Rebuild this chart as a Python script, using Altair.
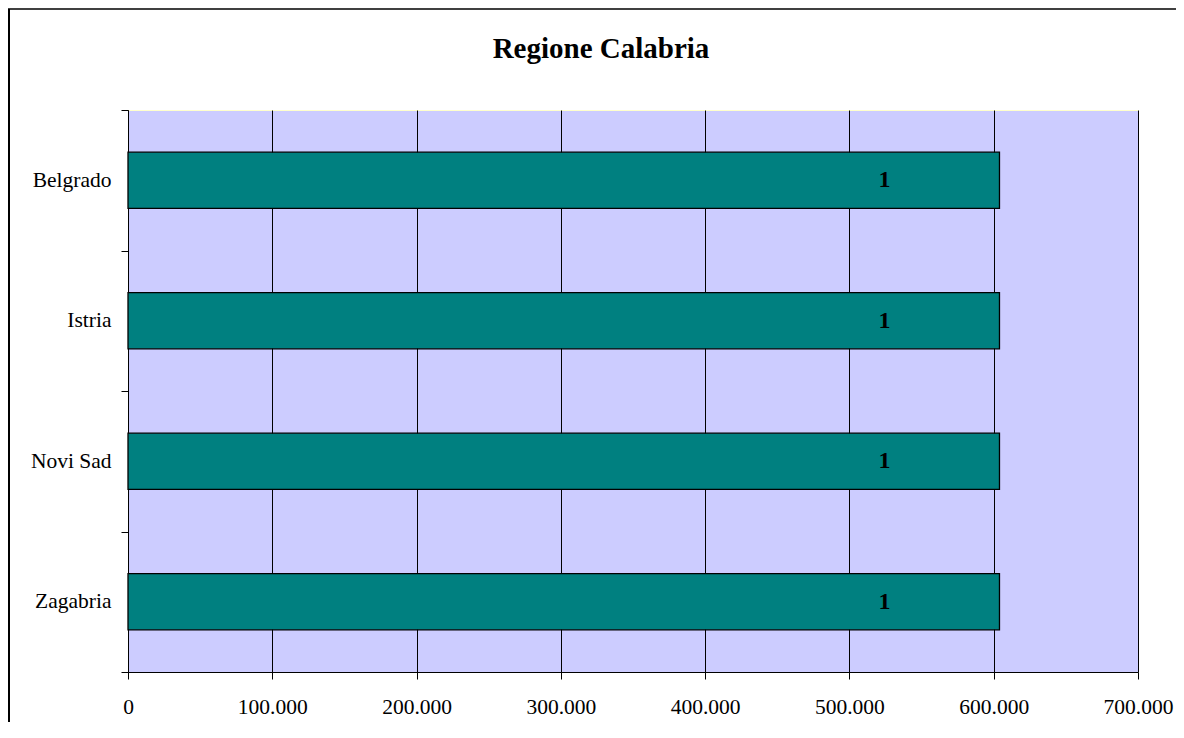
import altair as alt
import pandas as pd

categories = ["Belgrado", "Istria", "Novi Sad", "Zagabria"]
values = [604000, 604000, 604000, 604000]
labels = ["1", "1", "1", "1"]
x_ticks = [0, 100000, 200000, 300000, 400000, 500000, 600000, 700000]

df = pd.DataFrame({"cat": categories, "val": values, "lab": labels})

W, H = 1010, 562
FONT = "Liberation Serif"

base = alt.Chart(df)

bars = base.mark_bar(
    color="#008080", stroke="black", strokeWidth=1.3, height={"band": 0.4}
).encode(
    x=alt.X(
        "val:Q",
        scale=alt.Scale(domain=[0, 700000], nice=False),
        axis=alt.Axis(
            values=x_ticks, title=None, grid=True, gridColor="black", gridWidth=1,
            gridOpacity=1, domainColor="black", domainWidth=1, tickColor="black",
            tickSize=7, labelFontSize=21.5, labelColor="black", labelFont=FONT,
            labelPadding=17, labelFlush=False,
            labelExpr="replace(format(datum.value, ','), ',', '.')",
        ),
    ),
    y=alt.Y(
        "cat:N",
        sort=categories,
        scale=alt.Scale(paddingInner=0, paddingOuter=0),
        axis=alt.Axis(
            title=None, tickBand="extent", tickSize=7, tickColor="black",
            domainColor="black", labelFontSize=21.5, labelFont=FONT,
            labelColor="black", labelPadding=10, grid=False,
        ),
    ),
)

text = base.mark_text(
    font=FONT, fontSize=24, fontWeight="bold", color="black",
    dx=-115, align="center", baseline="middle",
).encode(
    x="val:Q",
    y=alt.Y("cat:N", sort=categories),
    text="lab:N",
)

frame_data = alt.Data(values=[{"k": 0}])
left_line = alt.Chart(frame_data).mark_rule(color="black", strokeWidth=2).encode(
    x=alt.value(-119), y=alt.value(-101), y2=alt.value(H + 80)
)
top_line = alt.Chart(frame_data).mark_rule(color="black", strokeWidth=1.5).encode(
    x=alt.value(-120), x2=alt.value(W + 70), y=alt.value(-101)
)

chart = (
    alt.layer(bars, text, left_line, top_line)
    .properties(
        width=W,
        height=H,
        padding={"left": 120, "top": 102, "right": 38, "bottom": 50},
        autosize=alt.AutoSizeParams(type="none"),
        background="white",
        title=alt.TitleParams(
            "Regione Calabria", font=FONT, fontSize=29, fontWeight="bold",
            color="black", anchor="middle", dx=-32, offset=-79, baseline="alphabetic",
        ),
    )
    .configure_view(fill="#CCCCFF", stroke="#FFFFCC", strokeWidth=1)
)

chart.save("out.html", embed_options={"renderer": "svg", "actions": False})
